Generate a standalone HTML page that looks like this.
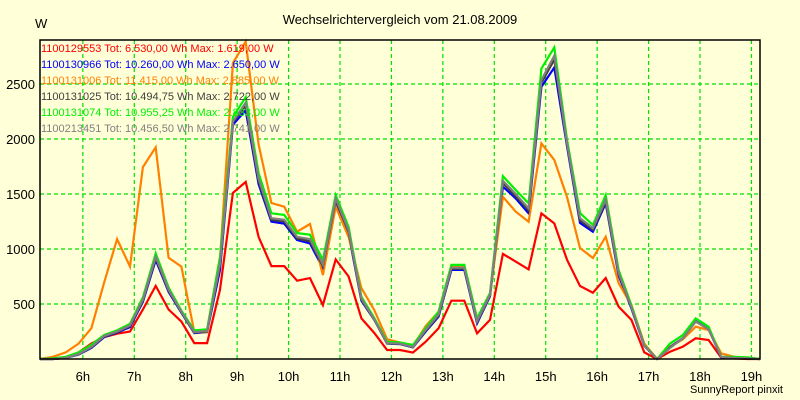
<!DOCTYPE html>
<html><head><meta charset="utf-8"><style>
html,body{margin:0;padding:0;background:#ffffd8;}
svg{display:block;font-family:"Liberation Sans",Arial,sans-serif;}
</style></head><body>
<svg id="chart" width="800" height="400" viewBox="0 0 800 400">
<rect x="0" y="0" width="800" height="400" fill="#ffffd8"/>
<text x="400" y="24" text-anchor="middle" font-size="13" fill="#000">Wechselrichtervergleich vom 21.08.2009</text>
<text x="35" y="28" font-size="13" fill="#000">W</text>
<text x="783" y="393" text-anchor="end" font-size="11" fill="#000">SunnyReport pinxit</text>
<g id="grid"></g>
<g id="ticks"></g>
<g id="series"></g>
<g id="legend"></g>
<rect x="40" y="40" width="720" height="319" fill="none" stroke="#000" stroke-width="1.5"/>
</svg>
<script>
const xTickLabels = ["6h","7h","8h","9h","10h","11h","12h","13h","14h","15h","16h","17h","18h","19h"];
const xTickHours = [6,7,8,9,10,11,12,13,14,15,16,17,18,19];
const yTicks = [500,1000,1500,2000,2500];
const startHour = 5 + 10/60;
const stepHours = 0.25;
const seriesNames = ["1100129553","1100130966","1100131006","1100131025","1100131074","1100213451"];
const legendTexts = [
 "1100129553 Tot: 6.530,00 Wh Max: 1.619,00 W",
 "1100130966 Tot: 10.260,00 Wh Max: 2.650,00 W",
 "1100131006 Tot: 11.415,00 Wh Max: 2.885,00 W",
 "1100131025 Tot: 10.494,75 Wh Max: 2.722,00 W",
 "1100131074 Tot: 10.955,25 Wh Max: 2.833,00 W",
 "1100213451 Tot: 10.456,50 Wh Max: 2.741,00 W"];
const red = [0,0,10,60,140,200,230,250,450,665,450,340,145,145,630,1510,1610,1110,845,845,712,735,490,905,750,370,236,82,82,58,157,280,530,530,233,355,955,885,815,1324,1233,900,664,603,736,476,355,60,0,66,112,188,173,10,5,0,0];
const blue = [0,0,10,40,100,200,240,290,520,900,610,420,235,245,810,2130,2260,1590,1248,1230,1082,1050,826,1430,1140,530,355,140,135,105,250,385,810,810,325,570,1567,1460,1324,2475,2650,1930,1236,1157,1415,760,460,120,0,110,190,345,270,15,10,5,0];
const orange = [0,20,60,140,280,700,1090,840,1745,1925,920,840,245,245,900,2690,2885,1950,1418,1385,1157,1227,763,1385,1110,645,445,180,150,115,300,430,840,840,340,580,1475,1340,1248,1960,1810,1470,1009,918,1112,690,490,140,0,110,180,294,264,50,20,10,0];
const black = [0,0,10,42,105,205,245,300,530,920,620,425,240,250,850,2150,2300,1620,1265,1250,1095,1070,845,1445,1155,540,358,142,138,108,258,395,820,820,335,578,1600,1480,1350,2510,2722,1950,1260,1175,1430,775,468,122,0,105,188,342,272,16,10,5,0];
const green = [0,5,20,60,130,220,260,320,560,960,650,440,260,270,930,2200,2380,1690,1325,1310,1145,1130,900,1490,1200,566,372,157,150,127,280,430,855,855,370,600,1663,1536,1415,2640,2833,1990,1327,1218,1490,810,490,130,0,140,218,370,294,20,20,15,0];
const gray = [0,0,10,45,110,210,250,305,540,930,630,430,245,255,870,2160,2330,1640,1280,1265,1110,1090,860,1460,1170,550,360,145,140,110,265,405,830,830,345,585,1620,1500,1370,2536,2757,1960,1280,1190,1450,785,475,125,0,100,190,340,270,18,10,5,0];

const NS="http://www.w3.org/2000/svg";
const L=40,R=760,T=40,B=359;
const x0=startHour, x1=startHour+14;
function xs(h){return L+(h-x0)/(x1-x0)*(R-L);}
function ys(v){return B-v*0.11;}
function mk(tag,attrs,parent){const e=document.createElementNS(NS,tag);for(const k in attrs)e.setAttribute(k,attrs[k]);parent.appendChild(e);return e;}
const grid=document.getElementById('grid'),ticks=document.getElementById('ticks'),ser=document.getElementById('series'),leg=document.getElementById('legend');
xTickHours.forEach((h,i)=>{
 const x=xs(h);
 const g=mk('line',{x1:x,y1:T,x2:x,y2:B,stroke:'#00e000','stroke-width':1.2,'stroke-dasharray':'4,3'},grid);
 
 
 const t=mk('text',{x:x,y:381,'text-anchor':'middle','font-size':13,fill:'#000'},ticks);
 t.textContent=xTickLabels[i];
 
 
});
yTicks.forEach(v=>{
 const y=ys(v);
 const g=mk('line',{x1:L,y1:y,x2:R,y2:y,stroke:'#00e000','stroke-width':1.2,'stroke-dasharray':'4,3'},grid);
 
 
 const t=mk('text',{x:35,y:y+5,'text-anchor':'end','font-size':13,fill:'#000'},ticks);
 t.textContent=String(v);
 
 
});
const seriesData=[red,blue,orange,black,green,gray];
const colors=['#ff0000','#0000ff','#ff8000','#404040','#00f000','#808080'];
const order=[0,1,2,3,4,5];
order.forEach(si=>{
 const d=seriesData[si];
 const pts=d.map((v,i)=>xs(x0+i*stepHours).toFixed(1)+','+ys(v).toFixed(1)).join(' ');
 const p=mk('polyline',{points:pts,fill:'none',stroke:colors[si],'stroke-width':2.2,'stroke-linejoin':'miter'},ser);
 
 
});
legendTexts.forEach((s,i)=>{
 const t=mk('text',{x:41,y:52+i*16,'font-size':11,fill:colors[i]},leg);
 t.textContent=s;
 
 
});
</script>
</body></html>
